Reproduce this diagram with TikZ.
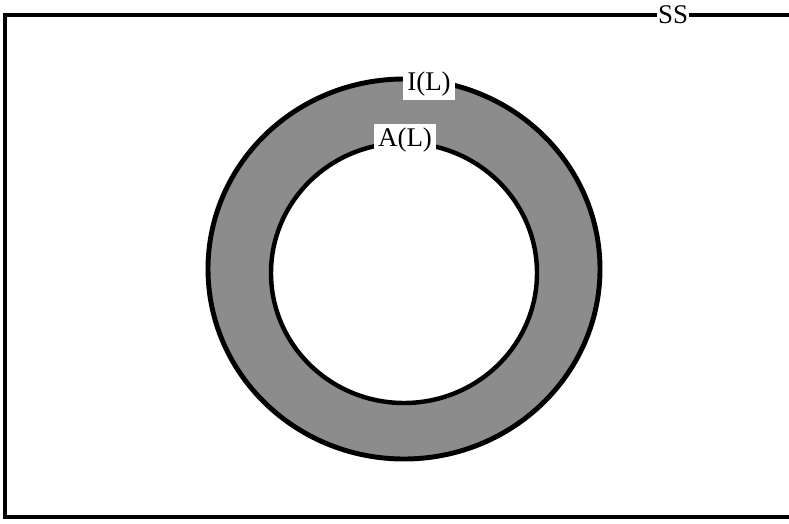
\documentclass[tikz,border=0pt]{standalone}
\usepackage{fontspec}
\setmainfont{Liberation Serif}
\tikzset{
  etiquette/.style={fill=white,inner sep=3.5pt,font=\fontsize{23}{26}\selectfont},
}
\begin{document}
\begin{tikzpicture}[x=0.03cm,y=-0.03cm]
    % Cadre
    \useasboundingbox (0,0) rectangle (789,523);
    \fill[white] (0,0) rectangle (789,523);
    \draw[line width=3.2pt] (789,15) -- (5,15) -- (5,517) -- (789,517);

    % Anneau
    \fill[black!45,even odd rule] (404,269) ellipse [x radius=196,y radius=190]
        (404,273) ellipse [x radius=133,y radius=130];
    \draw[line width=4.2pt] (404,269) ellipse [x radius=196,y radius=190];
    \draw[line width=3.8pt] (404,273) ellipse [x radius=133,y radius=130];

    % Etiquettes
    \node[etiquette,inner sep=1pt] (ss) at (673,15) {SS};
    \node[etiquette] (il) at (429,84) {I(L)};
    \node[etiquette] (al) at (405,140) {A(L)};
\end{tikzpicture}
\end{document}
